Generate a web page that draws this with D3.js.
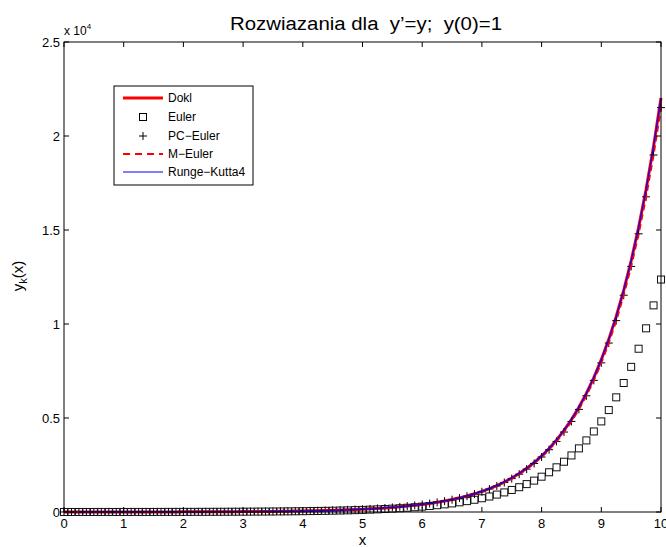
<!DOCTYPE html>
<html><head><meta charset="utf-8">
<script src="https://cdn.jsdelivr.net/npm/d3@7"></script>
<style>body{margin:0;background:#fff;} svg{display:block;font-family:"Liberation Sans",Arial,sans-serif;} text{white-space:pre;}</style>
</head><body>
<svg id="chart" width="666" height="547"></svg>
<script>
// x grid: step h = 0.125, 0..10
const xValues = [0,0.125,0.25,0.375,0.5,0.625,0.75,0.875,1,1.125,1.25,1.375,1.5,1.625,1.75,1.875,2,2.125,2.25,2.375,2.5,2.625,2.75,2.875,3,3.125,3.25,3.375,3.5,3.625,3.75,3.875,4,4.125,4.25,4.375,4.5,4.625,4.75,4.875,5,5.125,5.25,5.375,5.5,5.625,5.75,5.875,6,6.125,6.25,6.375,6.5,6.625,6.75,6.875,7,7.125,7.25,7.375,7.5,7.625,7.75,7.875,8,8.125,8.25,8.375,8.5,8.625,8.75,8.875,9,9.125,9.25,9.375,9.5,9.625,9.75,9.875,10];
const dokl = [1,1.13,1.28,1.45,1.65,1.87,2.12,2.40,2.72,3.08,3.49,3.96,4.48,5.08,5.75,6.52,7.39,8.37,9.49,10.75,12.18,13.80,15.64,17.73,20.09,22.76,25.79,29.22,33.12,37.52,42.52,48.18,54.60,61.87,70.11,79.44,90.02,102.0,115.6,131.0,148.4,168.2,190.6,215.9,244.7,277.3,314.2,356.0,403.4,457.1,518.0,587.0,665.1,753.7,854.1,967.8,1096.6,1242.6,1408.1,1595.6,1808.0,2048.8,2321.6,2630.7,2981.0,3377.9,3827.6,4337.3,4914.8,5569.2,6310.7,7151.0,8103.1,9182.0,10404.6,11789.9,13359.7,15138.6,17154.2,19438.3,22026.5];
const euler = [1,1.13,1.27,1.42,1.60,1.80,2.03,2.28,2.57,2.89,3.25,3.65,4.11,4.62,5.20,5.85,6.58,7.41,8.33,9.37,10.55,11.86,13.35,15.01,16.89,19.00,21.38,24.05,27.06,30.44,34.24,38.52,43.34,48.76,54.85,61.71,69.42,78.10,87.86,98.84,111.2,125.1,140.7,158.3,178.1,200.4,225.4,253.6,285.3,321.0,361.1,406.2,457.0,514.1,578.4,650.7,732.1,823.6,926.5,1042.3,1172.6,1319.2,1484.1,1669.6,1878.3,2113.1,2377.2,2674.4,3008.6,3384.7,3807.8,4283.8,4819.3,5421.7,6099.4,6861.8,7719.5,8684.5,9770.0,10991.3,12365.2];
const pcEuler = [1,1.13,1.28,1.45,1.65,1.87,2.11,2.39,2.71,3.07,3.48,3.94,4.47,5.06,5.73,6.49,7.35,8.33,9.44,10.69,12.11,13.72,15.54,17.60,19.94,22.59,25.59,28.99,32.84,37.20,42.14,47.74,54.08,61.27,69.40,78.62,89.06,100.9,114.3,129.5,146.7,166.1,188.2,213.2,241.5,273.6,309.9,351.1,397.7,450.6,510.4,578.2,655.0,742.0,840.5,952.1,1078.6,1221.8,1384.1,1567.9,1776.2,2012.1,2279.3,2582.0,2924.9,3313.4,3753.4,4252.0,4816.7,5456.4,6181.0,7002.0,7931.9,8985.4,10178.8,11530.6,13062.1,14796.9,16762.1,18988.3,21510.1];
const mEuler = [1,1.13,1.28,1.45,1.65,1.87,2.11,2.39,2.71,3.07,3.48,3.94,4.47,5.06,5.73,6.49,7.35,8.33,9.44,10.69,12.11,13.72,15.54,17.60,19.94,22.59,25.59,28.99,32.84,37.20,42.14,47.74,54.08,61.27,69.40,78.62,89.06,100.9,114.3,129.5,146.7,166.1,188.2,213.2,241.5,273.6,309.9,351.1,397.7,450.6,510.4,578.2,655.0,742.0,840.5,952.1,1078.6,1221.8,1384.1,1567.9,1776.2,2012.1,2279.3,2582.0,2924.9,3313.4,3753.4,4252.0,4816.7,5456.4,6181.0,7002.0,7931.9,8985.4,10178.8,11530.6,13062.1,14796.9,16762.1,18988.3,21510.1];
const rk4 = [1,1.13,1.28,1.45,1.65,1.87,2.12,2.40,2.72,3.08,3.49,3.96,4.48,5.08,5.75,6.52,7.39,8.37,9.49,10.75,12.18,13.80,15.64,17.73,20.09,22.76,25.79,29.22,33.12,37.52,42.52,48.18,54.60,61.87,70.11,79.44,90.02,102.0,115.6,131.0,148.4,168.2,190.6,215.9,244.7,277.3,314.2,356.0,403.4,457.1,518.0,587.0,665.1,753.7,854.1,967.8,1096.6,1242.6,1408.1,1595.6,1808.0,2048.8,2321.6,2630.7,2980.9,3377.8,3827.6,4337.2,4914.7,5569.1,6310.6,7150.8,8103.0,9181.9,10404.4,11789.7,13359.5,15138.3,17153.9,19437.9,22026.1];
const xTicks = [0,1,2,3,4,5,6,7,8,9,10];
const yTicks = [0,5000,10000,15000,20000,25000];
const yTickLabels = ["0","0.5","1","1.5","2","2.5"];
const legendLabels = ["Dokl","Euler","PC\u2212Euler","M\u2212Euler","Runge\u2212Kutta4"];
const titleText = "Rozwiazania dla  y\u2019=y;  y(0)=1";

const svg = d3.select("#chart");
const L = 64, R = 661, T = 42, B = 512;
const x = d3.scaleLinear().domain([0,10]).range([L,R]);
const y = d3.scaleLinear().domain([0,25000]).range([B,T]);

// data lines
const pts = arr => xValues.map((xv,i)=>[xv,arr[i]]);
const line = d3.line().x(d=>x(d[0])).y(d=>y(d[1]));
const g = svg.append("g");
g.append("path").attr("d", line(pts(dokl))).attr("fill","none").attr("stroke","#ff0000").attr("stroke-width",3);
// Euler squares
g.selectAll("rect.eu").data(pts(euler)).enter().append("rect")
  .attr("x",d=>x(d[0])-3.5).attr("y",d=>y(d[1])-3.5).attr("width",7).attr("height",7)
  .attr("fill","none").attr("stroke","#111").attr("stroke-width",1);
// PC-Euler plus
g.selectAll("path.pc").data(pts(pcEuler)).enter().append("path")
  .attr("d",d=>{const cx=x(d[0]), cy=y(d[1]); return `M${cx-4},${cy}H${cx+4}M${cx},${cy-4}V${cy+4}`;})
  .attr("stroke","#000").attr("stroke-width",1).attr("fill","none");
g.append("path").attr("d", line(pts(mEuler))).attr("fill","none").attr("stroke","#ff0000").attr("stroke-width",2).attr("stroke-dasharray","6,4");
g.append("path").attr("d", line(pts(rk4))).attr("fill","none").attr("stroke","#0000ff").attr("stroke-width",1.2);

// axes box
const ax = svg.append("g");
ax.append("rect").attr("x",L).attr("y",T).attr("width",R-L).attr("height",B-T).attr("fill","none").attr("stroke","#000").attr("stroke-width",1);
const tl = 5;
xTicks.forEach(t=>{
  ax.append("line").attr("x1",x(t)).attr("x2",x(t)).attr("y1",B).attr("y2",B-tl).attr("stroke","#000");
  ax.append("line").attr("x1",x(t)).attr("x2",x(t)).attr("y1",T).attr("y2",T+tl).attr("stroke","#000");
  ax.append("text").attr("x",x(t)).attr("y",B+16).attr("text-anchor","middle").attr("font-size",13).text(t);
});
yTicks.forEach((t,i)=>{
  ax.append("line").attr("x1",L).attr("x2",L+tl).attr("y1",y(t)).attr("y2",y(t)).attr("stroke","#000");
  ax.append("line").attr("x1",R).attr("x2",R-tl).attr("y1",y(t)).attr("y2",y(t)).attr("stroke","#000");
  ax.append("text").attr("x",L-4).attr("y",y(t)+4.5).attr("text-anchor","end").attr("font-size",13).text(yTickLabels[i]);
});
// exponent
const ex = ax.append("text").attr("x",L).attr("y",35).attr("font-size",12);
ex.append("tspan").text("x 10");
ex.append("tspan").attr("dy",-6).attr("font-size",8).text("4");

// title and labels
svg.append("text").attr("x",366).attr("y",30).attr("text-anchor","middle").attr("font-size",18)
  .attr("textLength",272).attr("lengthAdjust","spacingAndGlyphs").text(titleText);
svg.append("text").attr("x",x(5)).attr("y",545).attr("text-anchor","middle").attr("font-size",15).text("x");
const yl = svg.append("text").attr("transform","translate(23,276) rotate(-90)").attr("text-anchor","middle").attr("font-size",15);
yl.append("tspan").text("y");
yl.append("tspan").attr("dy",4).attr("font-size",11).text("k");
yl.append("tspan").attr("dy",-4).text("(x)");

// legend
const lg = svg.append("g");
lg.append("rect").attr("x",114).attr("y",86).attr("width",139).attr("height",99).attr("fill","#fff").attr("stroke","#000").attr("stroke-width",1);
const ly = [98,117,136,154,172];
const lx1 = 123, lx2 = 163, lcx = 143;
lg.append("line").attr("x1",lx1).attr("x2",lx2).attr("y1",ly[0]).attr("y2",ly[0]).attr("stroke","#ff0000").attr("stroke-width",3);
lg.append("rect").attr("x",lcx-3.5).attr("y",ly[1]-3.5).attr("width",7).attr("height",7).attr("fill","none").attr("stroke","#000");
lg.append("path").attr("d",`M${lcx-4},${ly[2]}H${lcx+4}M${lcx},${ly[2]-4}V${ly[2]+4}`).attr("stroke","#000");
lg.append("line").attr("x1",lx1).attr("x2",lx2).attr("y1",ly[3]).attr("y2",ly[3]).attr("stroke","#ff0000").attr("stroke-width",2).attr("stroke-dasharray","7,5");
lg.append("line").attr("x1",lx1).attr("x2",lx2).attr("y1",ly[4]).attr("y2",ly[4]).attr("stroke","#0000ff").attr("stroke-width",1.2);
legendLabels.forEach((t,i)=>{
  lg.append("text").attr("x",168).attr("y",ly[i]+4).attr("font-size",12).text(t);
});
</script>
</body></html>
